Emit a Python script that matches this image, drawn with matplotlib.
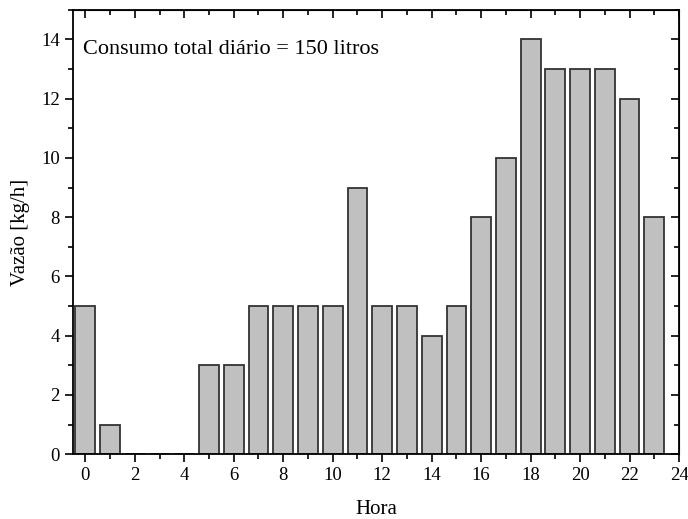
import matplotlib.pyplot as plt
from matplotlib.ticker import MultipleLocator

horas = list(range(24))
vazao = [5, 1, 0, 0, 0, 3, 3, 5, 5, 5, 5, 9, 5, 5, 4, 5, 8, 10, 14, 13, 13, 13, 12, 8]

plt.rcParams['font.family'] = ['Liberation Serif', 'DejaVu Serif']

fig = plt.figure(figsize=(6.88, 5.19), dpi=100)
ax = fig.add_axes([0.106, 0.125, 0.881, 0.856])

ax.bar(horas, vazao, width=0.8, color='#c0c0c0', edgecolor='#333333', linewidth=1.3)

ax.set_xlim(-0.5, 24)
ax.set_ylim(0, 15)
ax.xaxis.set_major_locator(MultipleLocator(2))
ax.xaxis.set_minor_locator(MultipleLocator(1))
ax.yaxis.set_major_locator(MultipleLocator(2))
ax.yaxis.set_minor_locator(MultipleLocator(1))
ax.set_yticks([0, 2, 4, 6, 8, 10, 12, 14])

ax.tick_params(which='both', direction='out', top=False, right=False, labelsize=13.5, width=1.2)
ax.tick_params(which='major', length=6)
ax.tick_params(which='minor', length=3.5)
for s in ax.spines.values():
    s.set_linewidth(1.3)

# mirrored ticks on top/right pointing inward
ax2 = ax.secondary_xaxis('top')
ax2.xaxis.set_major_locator(MultipleLocator(2))
ax2.xaxis.set_minor_locator(MultipleLocator(1))
ax2.tick_params(which='both', direction='in', labeltop=False, width=1.2)
ax2.tick_params(which='major', length=6)
ax2.tick_params(which='minor', length=3.5)
ax3 = ax.secondary_yaxis('right')
ax3.yaxis.set_major_locator(MultipleLocator(2))
ax3.yaxis.set_minor_locator(MultipleLocator(1))
ax3.tick_params(which='both', direction='in', labelright=False, width=1.2)
ax3.tick_params(which='major', length=6)
ax3.tick_params(which='minor', length=3.5)

ax.set_xlabel('Hora', fontsize=15, labelpad=11)
ax.set_ylabel('Vazão [kg/h]', fontsize=15, labelpad=8)

ax.text(0.017, 0.91, 'Consumo total diário = 150 litros', transform=ax.transAxes,
        fontsize=16, va='center', ha='left')

fig.savefig('out.png', dpi=100)
